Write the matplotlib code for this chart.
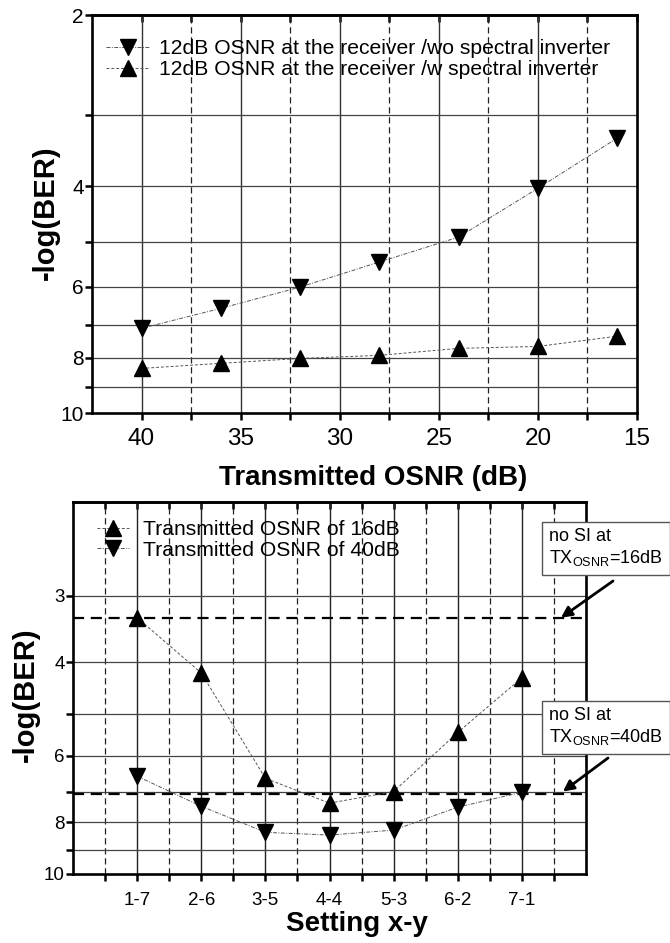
import numpy as np
import matplotlib
matplotlib.use('Agg')
import matplotlib.pyplot as plt
from matplotlib.ticker import FixedLocator, FixedFormatter, NullLocator

plt.rcParams['font.family'] = ['Liberation Sans', 'DejaVu Sans']
plt.rcParams['mathtext.fontset'] = 'custom'
plt.rcParams['mathtext.rm'] = 'Liberation Sans'
plt.rcParams['mathtext.it'] = 'Liberation Sans'

# top panel: -log(BER) vs transmitted OSNR
osnr = [40, 36, 32, 28, 24, 20, 16]
ber_wo_si = [7.10, 6.55, 6.01, 5.43, 4.91, 4.03, 3.29]
ber_w_si = [8.35, 8.18, 8.02, 7.92, 7.70, 7.64, 7.33]

# bottom panel: -log(BER) vs setting x-y
settings = ['1-7', '2-6', '3-5', '4-4', '5-3', '6-2', '7-1']
ber_16db = [3.30, 4.19, 6.61, 7.36, 7.00, 5.42, 4.28]
ber_40db = [6.55, 7.46, 8.35, 8.45, 8.27, 7.49, 7.02]
no_si_16db = 3.30
no_si_40db = 7.08

W, H = 670, 943
fig = plt.figure(figsize=(W / 100, H / 100), dpi=100)

GRAY = '#555555'


def px(x0, y0, x1, y1):
    return [x0 / W, 1 - y1 / H, (x1 - x0) / W, (y1 - y0) / H]


def style_axes(ax, fs_x, fs_y):
    for s in ax.spines.values():
        s.set_linewidth(1.9)
    ax.tick_params(axis='both', which='both', direction='out', length=5, width=1.8,
                   top=False, right=False, pad=3)
    ax.tick_params(axis='x', labelsize=fs_x, pad=6)
    ax.tick_params(axis='y', labelsize=fs_y, pad=1)
    sec = ax.secondary_xaxis('top')
    sec.set_xticks(list(ax.get_xticks(minor=False)) + list(ax.get_xticks(minor=True)))
    sec.tick_params(direction='in', length=5, width=1.8, labelsize=0, labeltop=False)
    sec.spines['top'].set_linewidth(1.9)


# ---------------- top panel
ax1 = fig.add_axes(px(92, 15, 637, 413))
ax1.set_yscale('log')
ax1.set_xlim(42.5, 15)
ax1.set_ylim(10, 2)
ax1.xaxis.set_major_locator(FixedLocator([40, 35, 30, 25, 20, 15]))
ax1.xaxis.set_minor_locator(FixedLocator([37.5, 32.5, 27.5, 22.5, 17.5]))
ax1.set_xticklabels(['40', '35', '30', '25', '20', '15'])
yt = [2, 3, 4, 5, 6, 7, 8, 9, 10]
ax1.yaxis.set_major_locator(FixedLocator(yt))
ax1.yaxis.set_major_formatter(FixedFormatter(['2', '', '4', '', '6', '', '8', '', '10']))
ax1.yaxis.set_minor_locator(NullLocator())
for v in [40, 35, 30, 25, 20]:
    ax1.axvline(v, color='#333333', lw=1.0, zorder=1)
for v in [37.5, 32.5, 27.5, 22.5, 17.5]:
    ax1.axvline(v, color='#222222', lw=0.9, ls=(0, (5, 3)), zorder=1)
for v in yt[1:-1]:
    ax1.axhline(v, color='#444444', lw=0.9, zorder=1)

ax1.plot(osnr, ber_wo_si, color=GRAY, lw=0.7, ls=(0, (4, 1.5, 1, 1.5)),
         marker='v', ms=12, mfc='black', mec='black', zorder=3,
         label='12dB OSNR at the receiver /wo spectral inverter')
ax1.plot(osnr, ber_w_si, color=GRAY, lw=0.7, ls=(0, (3, 2)),
         marker='^', ms=12, mfc='black', mec='black', zorder=3,
         label='12dB OSNR at the receiver /w spectral inverter')
style_axes(ax1, 17.5, 15)
ax1.set_xlabel('Transmitted OSNR (dB)', fontsize=20, fontweight='bold')
ax1.xaxis.set_label_coords((373 - 92) / 545, (413 - 465) / 398)
ax1.set_ylabel('-log(BER)', fontsize=21, fontweight='bold')
ax1.yaxis.set_label_coords((60 - 92) / 545, (413 - 213) / 398)
ax1.legend(loc='upper left', bbox_to_anchor=(0.01, 0.96), frameon=False,
           fontsize=15.2, handlelength=2.1, handletextpad=0.4, labelspacing=0.1,
           borderaxespad=0)

# ---------------- bottom panel
ax2 = fig.add_axes(px(73, 502, 586, 874))
ax2.set_yscale('log')
ax2.set_xlim(0, 8)
ax2.set_ylim(10, 2)
xs = np.arange(1, len(settings) + 1)
ax2.xaxis.set_major_locator(FixedLocator(list(xs)))
ax2.xaxis.set_minor_locator(FixedLocator([0.5 + i for i in range(8)]))
ax2.set_xticklabels(settings)
yt2 = [3, 4, 5, 6, 7, 8, 9, 10]
ax2.yaxis.set_major_locator(FixedLocator(yt2))
ax2.yaxis.set_major_formatter(FixedFormatter(['3', '4', '', '6', '', '8', '', '10']))
ax2.yaxis.set_minor_locator(NullLocator())
for v in xs:
    ax2.axvline(v, color='#222222', lw=1.0, zorder=1)
for v in [0.5 + i for i in range(8)]:
    ax2.axvline(v, color='#222222', lw=0.9, ls=(0, (5, 3)), zorder=1)
for v in yt2[:-1]:
    ax2.axhline(v, color='#444444', lw=0.9, zorder=1)
ax2.axhline(no_si_16db, color='black', lw=1.6, ls=(0, (5, 3)), zorder=2)
ax2.axhline(no_si_40db, color='black', lw=1.6, ls=(0, (5, 3)), zorder=2)

ax2.plot(xs, ber_16db, color=GRAY, lw=0.7, ls=(0, (3, 2)),
         marker='^', ms=11, mfc='black', mec='black', zorder=3,
         label='Transmitted OSNR of 16dB')
ax2.plot(xs, ber_40db, color=GRAY, lw=0.7, ls=(0, (4, 1.5, 1, 1.5)),
         marker='v', ms=11, mfc='black', mec='black', zorder=3,
         label='Transmitted OSNR of 40dB')
style_axes(ax2, 13.5, 13.5)
ax2.tick_params(axis='x', pad=8)
ax2.set_xlabel('Setting x-y', fontsize=20, fontweight='bold')
ax2.xaxis.set_label_coords((357 - 73) / 513, (874 - 911) / 372)
ax2.set_ylabel('-log(BER)', fontsize=21, fontweight='bold')
ax2.yaxis.set_label_coords((40 - 73) / 513, (874 - 695) / 372)
ax2.legend(loc='upper left', bbox_to_anchor=(0.03, 0.973), frameon=False,
           fontsize=15.2, handlelength=1.5, handletextpad=0.7, labelspacing=0.05,
           borderaxespad=0)

# annotation boxes with arrows
box = dict(boxstyle='square,pad=0.4', fc='white', ec='#555555', lw=1.0)
fig.text(549 / W, 1 - 548 / H, 'no SI at\nTX$_{\\mathrm{OSNR}}$=16dB', fontsize=13,
         ha='left', va='center', bbox=box, linespacing=1.15)
fig.text(549 / W, 1 - 727 / H, 'no SI at\nTX$_{\\mathrm{OSNR}}$=40dB', fontsize=13,
         ha='left', va='center', bbox=box, linespacing=1.15)
arrow = dict(arrowstyle='-|>', color='black', lw=2.0, mutation_scale=16, shrinkA=0, shrinkB=0)
ax2.annotate('', xy=(7.61, no_si_16db), xycoords='data',
             xytext=(613 / W, 1 - 581 / H), textcoords='figure fraction',
             arrowprops=arrow, annotation_clip=False)
ax2.annotate('', xy=(7.64, 7.0), xycoords='data',
             xytext=(608 / W, 1 - 758 / H), textcoords='figure fraction',
             arrowprops=arrow, annotation_clip=False)

fig.savefig('out.png', dpi=100)
